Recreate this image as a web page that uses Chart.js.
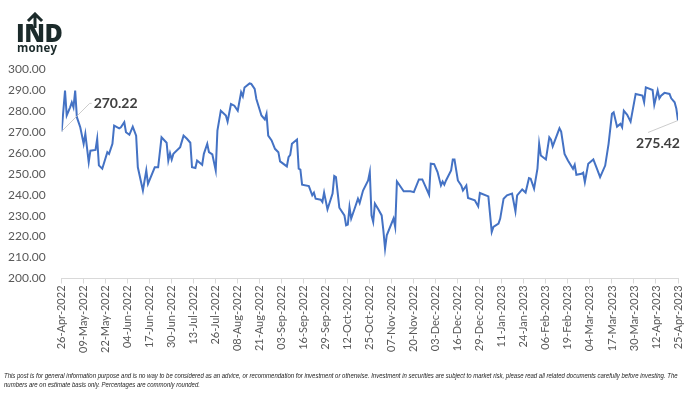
<!DOCTYPE html>
<html>
<head>
<meta charset="utf-8">
<script src="https://cdn.jsdelivr.net/npm/chart.js@4"></script>
<style>
  html, body { margin: 0; padding: 0; background: #fff; }
  #wrap { position: relative; width: 700px; height: 393px; overflow: hidden; }
  #c { position: absolute; left: 0; top: 0; }
  #logo { position: absolute; left: 16px; top: 12px; color: #1b2a2a; font-family: "Open Sans", "DejaVu Sans", sans-serif; }
  #logo .ind { position: absolute; left: 0; top: 8px; font-size: 25px; font-weight: 800; letter-spacing: -0.5px; line-height: 25px; }
  #logo .money { position: absolute; left: 1px; top: 30px; font-size: 11.5px; font-weight: 700; line-height: 12px; letter-spacing: 0.2px; }
  #logo svg { position: absolute; left: 0; top: 0; }
  .foot { position: absolute; left: 4px; font-family: "Liberation Sans", "DejaVu Sans", sans-serif; font-style: italic; font-size: 6.4px; color: #222; white-space: nowrap; transform-origin: 0 0; }
</style>
</head>
<body>
<div id="wrap">
  <canvas id="c" width="700" height="393"></canvas>
  <div id="logo">
    <svg width="40" height="16" viewBox="0 0 40 16">
      <path d="M19 16 L19 3 M13 8 L19 2 L25 8" stroke="#1b2a2a" stroke-width="3" fill="none" stroke-linecap="square"/>
    </svg>
    <div class="ind">IND</div>
    <div class="money">money</div>
  </div>
  <div class="foot" id="f1" style="top:372px;">This post is for general information purpose and is no way to be considered as an advice, or recommendation for investment or otherwise. Investment in securities are subject to market risk, please read all related documents carefully before investing. The</div>
  <div class="foot" id="f2" style="top:381px;">numbers are on estimate basis only. Percentages are commonly rounded.</div>
</div>
<script>
// Day offsets from 26-Apr-2022 and closing values
const dayOffsets = [0,2,3,5,6,7,8,9,11,13,14,16,17,20,21,22,24,27,28,30,31,34,35,37,38,40,42,44,45,48,50,51,55,57,59,62,63,64,65,66,70,72,74,76,77,79,80,83,84,86,87,89,91,92,94,97,98,100,102,104,106,107,108,111,112,114,115,118,120,121,122,124,126,128,129,133,134,135,136,139,140,141,142,146,148,149,150,153,154,155,157,160,161,162,164,167,168,169,170,171,173,175,176,178,181,182,183,184,185,187,189,190,191,192,196,197,198,199,202,206,208,211,213,217,218,220,222,224,225,226,227,230,231,232,234,236,237,239,240,244,246,247,252,254,255,258,259,261,263,266,268,269,272,274,276,277,279,281,282,283,286,288,289,290,294,295,297,299,302,303,304,307,308,309,311,314,316,318,321,323,325,326,328,330,331,332,334,336,339,343,344,345,349,350,352,353,354,356,359,360,362,363,364];
const prices = [270.22,289.7,277.8,281.7,284.1,281.7,289.7,277.0,272.2,264.3,269.0,255.5,261.0,261.4,266.7,254.0,252.4,260.3,259.5,264.3,273.0,271.7,272.2,274.6,269.8,268.6,272.5,268.2,253.1,242.0,251.6,245.2,253.1,253.1,267.4,264.8,256.3,259.8,256.8,259.5,262.7,268.2,266.7,264.8,253.1,252.7,256.3,254.3,259.5,264.3,260.3,259.2,251.6,270.6,280.1,277.8,274.9,283.3,282.5,280.1,288.9,287.0,291.2,293.1,292.9,290.5,285.7,277.8,275.9,278.6,268.2,265.9,261.9,260.3,255.9,253.5,257.9,259.0,264.3,266.3,252.4,252.0,244.8,244.1,239.7,241.0,238.1,237.6,236.5,241.0,233.0,240.5,248.9,248.4,233.8,230.1,225.4,225.7,234.1,228.6,233.3,238.1,236.0,242.0,246.8,250.8,230.1,227.0,235.7,233.0,230.1,223.0,214.3,220.6,228.6,224.6,246.3,245.2,241.6,241.6,241.2,247.3,247.3,240.0,254.8,254.6,250.8,244.4,246.3,244.8,246.8,251.6,256.8,256.8,246.8,244.4,242.0,244.4,238.4,237.3,234.4,240.8,239.2,222.2,224.6,226.2,228.6,238.1,239.7,240.5,232.0,239.7,242.5,241.0,247.9,247.6,242.9,252.4,264.3,258.7,256.8,267.4,266.3,263.1,271.7,270.1,259.5,256.3,252.4,254.3,249.5,250.0,250.5,246.0,254.8,256.8,252.7,248.4,253.9,264.3,278.6,279.3,272.5,273.8,272.2,280.1,278.1,274.9,288.1,287.3,284.1,291.2,290.0,282.9,289.7,286.0,287.3,288.6,288.1,286.0,284.1,281.2,275.42];
const tickLabels = ["26-Apr-2022","09-May-2022","22-May-2022","04-Jun-2022","17-Jun-2022","30-Jun-2022","13-Jul-2022","26-Jul-2022","08-Aug-2022","21-Aug-2022","03-Sep-2022","16-Sep-2022","29-Sep-2022","12-Oct-2022","25-Oct-2022","07-Nov-2022","20-Nov-2022","03-Dec-2022","16-Dec-2022","29-Dec-2022","11-Jan-2023","24-Jan-2023","06-Feb-2023","19-Feb-2023","04-Mar-2023","17-Mar-2023","30-Mar-2023","12-Apr-2023","25-Apr-2023"];
const firstLabel = "270.22";
const lastLabel = "275.42";

const points = dayOffsets.map((d, i) => ({ x: d, y: prices[i] }));

const endLabels = {
  id: 'endLabels',
  afterDatasetsDraw(chart) {
    const meta = chart.getDatasetMeta(0);
    const p0 = meta.data[0], pN = meta.data[meta.data.length - 1];
    const ctx = chart.ctx;
    ctx.save();
    ctx.strokeStyle = '#bfbfbf';
    ctx.lineWidth = 0.8;
    ctx.beginPath();
    ctx.moveTo(p0.x, p0.y);
    ctx.lineTo(p0.x + 28, p0.y - 28);
    ctx.lineTo(p0.x + 30, p0.y - 28);
    ctx.moveTo(pN.x, pN.y);
    ctx.lineTo(pN.x - 30, pN.y + 12);
    ctx.stroke();
    ctx.fillStyle = '#404040';
    ctx.font = 'bold 14px Lato, "Open Sans", sans-serif';
    ctx.textBaseline = 'middle';
    ctx.textAlign = 'left';
    ctx.fillText(firstLabel, p0.x + 32, p0.y - 28);
    ctx.textAlign = 'center';
    ctx.fillText(lastLabel, pN.x - 20, pN.y + 23);
    ctx.restore();
  }
};

new Chart(document.getElementById('c'), {
  type: 'line',
  data: {
    datasets: [{
      data: points,
      borderColor: '#4472C4',
      borderWidth: 2,
      pointRadius: 0,
      tension: 0,
      fill: false
    }]
  },
  options: {
    responsive: false,
    animation: false,
    layout: { padding: { left: 0, right: 22, top: 69, bottom: 38 } },
    plugins: { legend: { display: false }, tooltip: { enabled: false } },
    scales: {
      x: {
        type: 'linear',
        min: 0, max: 364,
        ticks: {
          stepSize: 13,
          autoSkip: false,
          minRotation: 90, maxRotation: 90,
          color: '#595959',
          font: { family: 'Lato, "Open Sans", sans-serif', size: 11 },
          padding: 2,
          callback: (v) => tickLabels[Math.round(v / 13)]
        },
        grid: { drawOnChartArea: false, color: '#d9d9d9', tickLength: 5 },
        border: { color: '#d9d9d9', width: 1 }
      },
      y: {
        min: 200, max: 300,
        ticks: {
          stepSize: 10,
          color: '#595959',
          font: { family: 'Lato, "Open Sans", sans-serif', size: 12 },
          padding: 8,
          callback: (v) => v.toFixed(2)
        },
        grid: { display: false },
        border: { display: false }
      }
    }
  },
  plugins: [endLabels]
});

const f1 = document.getElementById('f1');
const s = 674 / f1.offsetWidth;
f1.style.transform = 'scaleX(' + s + ')';
document.getElementById('f2').style.transform = 'scaleX(' + s + ')';
</script>
</body>
</html>
